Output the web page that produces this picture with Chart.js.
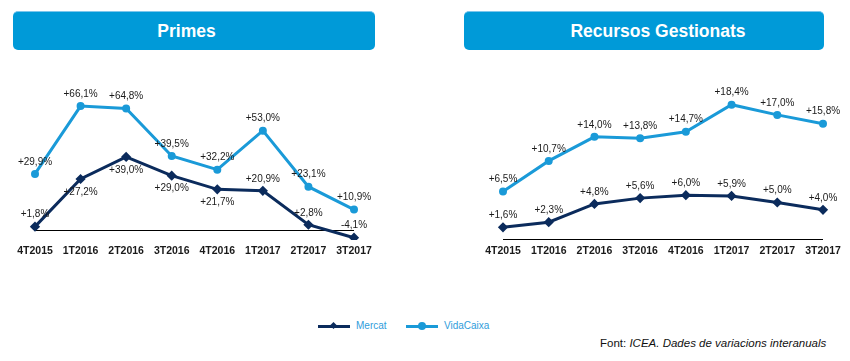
<!DOCTYPE html>
<html>
<head>
<meta charset="utf-8">
<script src="https://cdn.jsdelivr.net/npm/chart.js@4"></script>
<style>
  html, body { margin:0; padding:0; background:#fff; }
  body { width:850px; height:361px; position:relative; overflow:hidden; font-family:"Liberation Sans", Arial, sans-serif; }
  .title { position:absolute; top:11px; height:39px; background:#009ad8; border-radius:5px; color:#fff;
           font-weight:bold; font-size:17.5px; line-height:38px; text-align:center; border-top:1px solid #7cc6ec; box-sizing:border-box; }
  canvas { position:absolute; }
  .legend { position:absolute; top:319px; left:318px; height:14px; font-size:10px; color:#2f9ddb; }
  .item { position:absolute; top:0; white-space:nowrap; }
  .ln { position:absolute; top:6px; width:32px; height:3px; }
  .mk { position:absolute; }
  .txt { position:absolute; top:0; line-height:14px; }
  .source { position:absolute; left:600px; top:337px; font-size:11.5px; color:#111; white-space:nowrap; }
</style>
</head>
<body>
<div class="title" style="left:13px;width:362px;padding-right:15px;">Primes</div>
<div class="title" style="left:464px;width:360px;padding-left:28px;">Recursos Gestionats</div>
<canvas id="c1" width="425" height="245" style="left:0;top:55px;width:425px;height:245px;"></canvas>
<canvas id="c2" width="425" height="245" style="left:425px;top:55px;width:425px;height:245px;"></canvas>

<div class="legend">
  <div class="item" style="left:0">
    <div class="ln" style="left:0;background:#0b2b5c"></div>
    <div class="mk" style="left:13px;top:4px;width:5px;height:5px;background:#0b2b5c;transform:rotate(45deg)"></div>
    <div class="txt" style="left:38px">Mercat</div>
  </div>
  <div class="item" style="left:88px">
    <div class="ln" style="left:0;background:#1a9ad8"></div>
    <div class="mk" style="left:12px;top:3px;width:8px;height:8px;border-radius:50%;background:#1a9ad8"></div>
    <div class="txt" style="left:38px">VidaCaixa</div>
  </div>
</div>
<div class="source">Font: <i>ICEA. Dades de variacions interanuals</i></div>

<script>
const categories = ['4T2015','1T2016','2T2016','3T2016','4T2016','1T2017','2T2017','3T2017'];
const seriesNames = ['Mercat','VidaCaixa'];
const primesMercat = [1.8, 27.2, 39.0, 29.0, 21.7, 20.9, 2.8, -4.1];
const primesVidaCaixa = [29.9, 66.1, 64.8, 39.5, 32.2, 53.0, 23.1, 10.9];
const recursosMercat = [1.6, 2.3, 4.8, 5.6, 6.0, 5.9, 5.0, 4.0];
const recursosVidaCaixa = [6.5, 10.7, 14.0, 13.8, 14.7, 18.4, 17.0, 15.8];

// label placement (-1 above, +1 below)
const primesMercatPlace = [-1, 1, 1, 1, 1, -1, -1, -1];
const allAbove = [-1, -1, -1, -1, -1, -1, -1, -1];

const fmt = v => (v > 0 ? '+' : '') + v.toFixed(1).replace('.', ',') + '%';

const labelPlugin = {
  id: 'ptLabels',
  afterDatasetsDraw(chart) {
    const ctx = chart.ctx;
    ctx.save();
    ctx.font = '10px "Liberation Sans", Arial, sans-serif';
    ctx.fillStyle = '#1a1a1a';
    ctx.textAlign = 'center';
    ctx.textBaseline = 'middle';
    chart.data.datasets.forEach((ds, di) => {
      const meta = chart.getDatasetMeta(di);
      meta.data.forEach((pt, i) => {
        const place = ds.place[i];
        ctx.fillText(fmt(ds.data[i]), pt.x, pt.y + (place < 0 ? -12 : 13));
      });
    });
    ctx.restore();
  }
};

function makeChart(id, mercat, vida, mercatPlace, yMin, yMax, padding) {
  return new Chart(document.getElementById(id), {
    type: 'line',
    data: {
      labels: categories,
      datasets: [
        { label: seriesNames[1], data: vida, place: allAbove, borderColor: '#1a9ad8', backgroundColor: '#1a9ad8',
          borderWidth: 3, pointStyle: 'circle', pointRadius: 2.5, tension: 0 },
        { label: seriesNames[0], data: mercat, place: mercatPlace, borderColor: '#0b2b5c', backgroundColor: '#0b2b5c',
          borderWidth: 3, pointStyle: 'rectRot', pointRadius: 3, tension: 0 }
      ]
    },
    options: {
      responsive: false,
      animation: false,
      layout: { padding: padding },
      plugins: { legend: { display: false }, tooltip: { enabled: false } },
      scales: {
        x: {
          offset: false,
          grid: { display: false, drawTicks: false },
          border: { display: false },
          ticks: { font: { family: '"Liberation Sans", Arial, sans-serif', size: 10.5, weight: 'bold' }, color: '#1a1a1a', padding: 5, maxRotation: 0, autoSkip: false },
          afterFit: a => { a.height = 30; }
        },
        y: {
          min: yMin, max: yMax,
          afterBuildTicks: a => { a.ticks = [{ value: 0 }]; },
          ticks: { display: false },
          border: { display: false },
          grid: { drawTicks: false, color: '#000', lineWidth: 1 }
        }
      }
    },
    plugins: [labelPlugin]
  });
}

makeChart('c1', primesMercat, primesVidaCaixa, primesMercatPlace, -10 / 1.875, 150 / 1.875,
  { left: 35, right: 71, top: 25, bottom: 30 });
makeChart('c2', recursosMercat, recursosVidaCaixa, allAbove, -1 / 7.3, 159 / 7.3,
  { left: 78, right: 27, top: 25, bottom: 30 });
</script>
</body>
</html>
